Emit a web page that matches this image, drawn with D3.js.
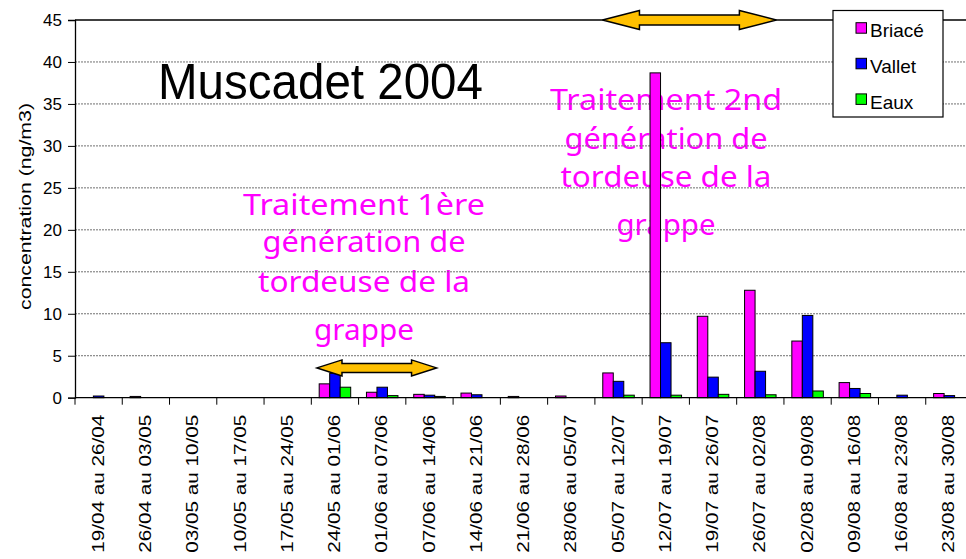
<!DOCTYPE html>
<html>
<head>
<meta charset="UTF-8">
<title>Muscadet 2004</title>
<script src="https://cdn.jsdelivr.net/npm/d3@7/dist/d3.min.js"></script>
<style>
  body { margin: 0; background: #fff; }
  svg { display: block; font-family: "Liberation Sans", Arial, sans-serif; }
</style>
</head>
<body>
<svg id="chart" width="966" height="559"></svg>
<script>
// weekly periods
var periods = ["19/04 au 26/04", "26/04 au 03/05", "03/05 au 10/05", "10/05 au 17/05",
  "17/05 au 24/05", "24/05 au 01/06", "01/06 au 07/06", "07/06 au 14/06",
  "14/06 au 21/06", "21/06 au 28/06", "28/06 au 05/07", "05/07 au 12/07",
  "12/07 au 19/07", "19/07 au 26/07", "26/07 au 02/08", "02/08 au 09/08",
  "09/08 au 16/08", "16/08 au 23/08", "23/08 au 30/08"];

var seriesNames = ["Briacé", "Vallet", "Eaux"];
var seriesColors = ["#ff00ff", "#0000ff", "#00ff00"];

var briace = [0, 0.15, 0, 0, 0, 1.65, 0.65, 0.4, 0.55, 0.15, 0.2, 2.95, 38.7, 9.7, 12.8, 6.75, 1.8, 0, 0.5];
var vallet = [0.2, 0, 0, 0, 0, 2.9, 1.25, 0.3, 0.35, 0, 0, 1.95, 6.55, 2.45, 3.15, 9.8, 1.1, 0.3, 0.25];
var eaux = [0, 0, 0, 0, 0, 1.25, 0.25, 0.15, 0, 0, 0, 0.3, 0.3, 0.4, 0.35, 0.8, 0.5, 0, 0];

var yTicks = [0, 5, 10, 15, 20, 25, 30, 35, 40, 45];

var svg = d3.select("#chart");
var plotLeft = 75, plotRight = 973, plotTop = 20, plotBottom = 397.7;

var x = d3.scaleBand().domain(periods).range([plotLeft, plotRight]);
var xSub = d3.scaleBand().domain(seriesNames).range([0, x.bandwidth()]).paddingOuter(0.75);
var y = d3.scaleLinear().domain([0, 45]).range([plotBottom, plotTop]);

// annotation text (drawn below grid and bars)
var pink = "#ff00ff";
var annFont = "'Comic Sans MS', 'Noto Sans', sans-serif";
function annotation(cx, lines) {
  var g = svg.append("g").attr("fill", pink).attr("font-family", annFont)
    .attr("font-size", 29).attr("text-anchor", "middle");
  lines.forEach(function (l) {
    g.append("text").attr("x", cx).attr("y", l[1])
      .attr("textLength", l[2]).attr("lengthAdjust", "spacingAndGlyphs")
      .text(l[0]);
  });
}
annotation(364, [["Traitement 1ère", 215, 242], ["génération de", 252, 203],
  ["tordeuse de la", 292, 212], ["grappe", 340, 100]]);
annotation(666, [["Traitement 2nd", 110, 232], ["génération de", 149, 203],
  ["tordeuse de la", 187, 211], ["grappe", 235, 99]]);

// gridlines
svg.append("g").selectAll("line").data(yTicks.filter(function (d) { return d > 0 && d < 45; }))
  .join("line")
  .attr("x1", plotLeft).attr("x2", plotRight)
  .attr("y1", function (d) { return y(d); }).attr("y2", function (d) { return y(d); })
  .attr("stroke", "#707070").attr("stroke-width", 1).attr("stroke-dasharray", "2,1");

// top border
svg.append("line").attr("x1", plotLeft).attr("x2", plotRight).attr("y1", y(45)).attr("y2", y(45))
  .attr("stroke", "#000").attr("stroke-width", 1.3);

// bars
var values = [briace, vallet, eaux];
seriesNames.forEach(function (name, si) {
  svg.append("g").selectAll("rect")
    .data(periods.map(function (p, i) { return { p: p, v: values[si][i] }; })
      .filter(function (d) { return d.v > 0; }))
    .join("rect")
    .attr("x", function (d) { return x(d.p) + xSub(name); })
    .attr("width", xSub.bandwidth())
    .attr("y", function (d) { return y(d.v); })
    .attr("height", function (d) { return y(0) - y(d.v); })
    .attr("fill", seriesColors[si])
    .attr("stroke", "#000").attr("stroke-width", 1);
});

// y axis
var yAxis = svg.append("g").attr("transform", "translate(" + plotLeft + ",0)")
  .call(d3.axisLeft(y).tickValues(yTicks).tickSize(7).tickPadding(6));
yAxis.select(".domain").attr("stroke", "#000").attr("stroke-width", 1.3);
yAxis.selectAll("text").attr("font-size", 17).attr("font-family", "Liberation Sans, Arial, sans-serif")
  .attr("fill", "#000");

// x axis
var xAxis = svg.append("g").attr("transform", "translate(0," + plotBottom + ")");
xAxis.append("line").attr("x1", plotLeft).attr("x2", plotRight).attr("stroke", "#000").attr("stroke-width", 1.3);
xAxis.selectAll(".tk").data(periods).join("line").attr("class", "tk")
  .attr("x1", function (d) { return x(d); }).attr("x2", function (d) { return x(d); })
  .attr("y1", 0).attr("y2", 7).attr("stroke", "#000");
xAxis.selectAll(".lbl").data(periods).join("text").attr("class", "lbl")
  .attr("transform", function (d) {
    return "translate(" + (x(d) + x.bandwidth() / 2) + ",17) rotate(-90)";
  })
  .attr("text-anchor", "end").attr("dy", "0.32em")
  .attr("font-size", 16).attr("textLength", 138).attr("lengthAdjust", "spacingAndGlyphs")
  .text(function (d) { return d; });

// y title
svg.append("text").attr("transform", "translate(31,206.5) rotate(-90)")
  .attr("text-anchor", "middle").attr("font-size", 16)
  .attr("textLength", 207).attr("lengthAdjust", "spacingAndGlyphs")
  .text("concentration (ng/m3)");

// title
svg.append("text").attr("x", 158).attr("y", 99).attr("font-size", 50)
  .attr("textLength", 325).attr("lengthAdjust", "spacingAndGlyphs")
  .text("Muscadet 2004");

// double arrows
function arrow(i0, f0, i1, f1, v, headLen, headH, shaftH) {
  var x0 = x(periods[i0]) + f0 * x.bandwidth();
  var x1 = x(periods[i1]) + f1 * x.bandwidth();
  var cy = y(v);
  var pts = [[x0, cy], [x0 + headLen, cy - headH], [x0 + headLen, cy - shaftH],
    [x1 - headLen, cy - shaftH], [x1 - headLen, cy - headH], [x1, cy],
    [x1 - headLen, cy + headH], [x1 - headLen, cy + shaftH],
    [x0 + headLen, cy + shaftH], [x0 + headLen, cy + headH]];
  svg.append("path").attr("d", d3.line()(pts) + "Z")
    .attr("fill", "#ffc000").attr("stroke", "#000").attr("stroke-width", 1.5)
    .attr("stroke-linejoin", "miter");
}
arrow(11, 0.16, 14, 0.84, 45, 37, 9.5, 5);
arrow(5, 0.12, 7, 0.65, 3.55, 25, 8, 4.5);

// legend
var lg = svg.append("g");
lg.append("rect").attr("x", 833).attr("y", 10.5).attr("width", 110).attr("height", 106.5)
  .attr("fill", "#fff").attr("stroke", "#000").attr("stroke-width", 1.2);
seriesNames.forEach(function (name, i) {
  var by = 37.3 + i * 35.6;
  lg.append("rect").attr("x", 856).attr("y", by - 14.6).attr("width", 10.5).attr("height", 10.5)
    .attr("fill", seriesColors[i]).attr("stroke", "#000").attr("stroke-width", 1);
  lg.append("text").attr("x", 870).attr("y", by).attr("font-size", 19).text(name);
});
</script>
</body>
</html>
